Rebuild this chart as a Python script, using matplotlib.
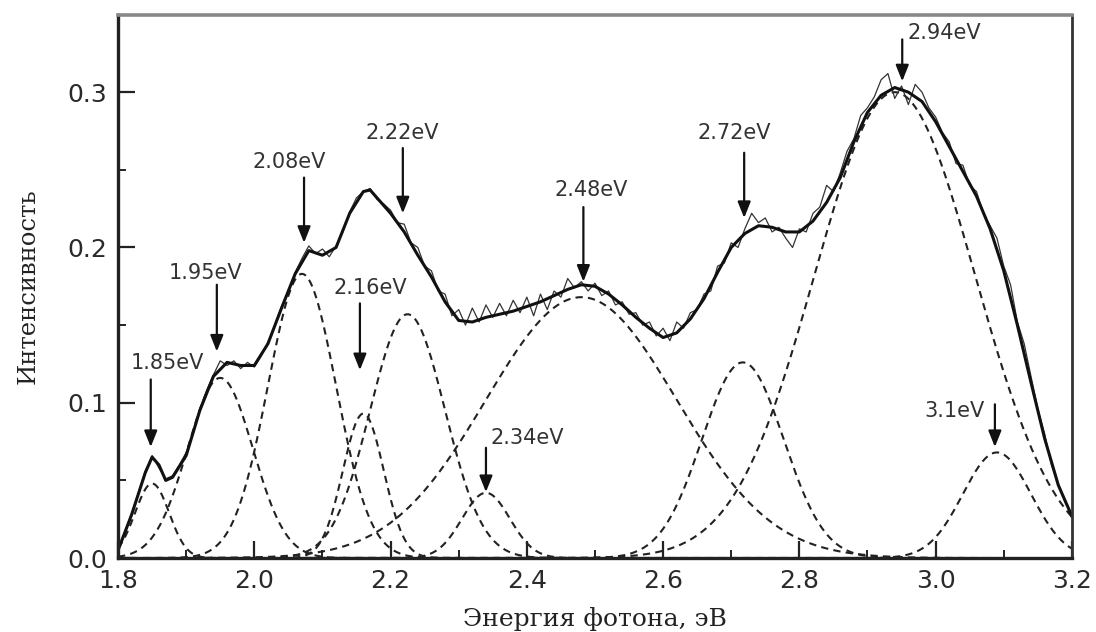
import numpy as np
import matplotlib
matplotlib.use("Agg")
import matplotlib.pyplot as plt
from matplotlib.ticker import MultipleLocator, FormatStrFormatter

# ---------------- data ----------------
# smooth fitted envelope (solid thick line)
fit_energy = [1.80, 1.82, 1.84, 1.85, 1.86, 1.87, 1.88, 1.90, 1.92, 1.94, 1.96, 1.98,
              2.00, 2.02, 2.04, 2.06, 2.08, 2.10, 2.12, 2.14, 2.16, 2.17, 2.18, 2.20,
              2.22, 2.24, 2.26, 2.28, 2.30, 2.32, 2.34, 2.36, 2.38, 2.40, 2.42, 2.44,
              2.46, 2.48, 2.50, 2.52, 2.54, 2.56, 2.58, 2.60, 2.62, 2.64, 2.66, 2.68,
              2.70, 2.72, 2.74, 2.76, 2.78, 2.80, 2.82, 2.84, 2.86, 2.88, 2.90, 2.92,
              2.94, 2.96, 2.98, 3.00, 3.02, 3.04, 3.06, 3.08, 3.10, 3.12, 3.14, 3.16,
              3.18, 3.20]
fit_intensity = [0.005, 0.028, 0.055, 0.065, 0.060, 0.050, 0.052, 0.066, 0.095, 0.117, 0.126, 0.124,
                 0.124, 0.138, 0.161, 0.183, 0.198, 0.195, 0.200, 0.222, 0.236, 0.237, 0.232, 0.222,
                 0.210, 0.195, 0.181, 0.165, 0.153, 0.152, 0.155, 0.157, 0.159, 0.162, 0.165, 0.169,
                 0.173, 0.176, 0.175, 0.170, 0.163, 0.155, 0.148, 0.142, 0.145, 0.154, 0.167, 0.184,
                 0.200, 0.209, 0.214, 0.213, 0.210, 0.210, 0.217, 0.229, 0.245, 0.268, 0.287, 0.298,
                 0.303, 0.300, 0.294, 0.281, 0.265, 0.249, 0.233, 0.212, 0.185, 0.150, 0.113, 0.077,
                 0.047, 0.027]

# measured spectrum (thin noisy line), 1.80 ... 3.20 eV in 0.01 eV steps
exp_intensity = [
    0.006, 0.016, 0.029, 0.042, 0.056, 0.066, 0.058, 0.051, 0.053, 0.060,
    0.068, 0.080, 0.096, 0.108, 0.118, 0.127, 0.124, 0.127, 0.122, 0.126,
    0.123, 0.130, 0.139, 0.150, 0.162, 0.172, 0.184, 0.193, 0.201, 0.196,
    0.199, 0.194, 0.201, 0.210, 0.223, 0.232, 0.236, 0.238, 0.231, 0.228,
    0.224, 0.216, 0.215, 0.203, 0.200, 0.188, 0.185, 0.172, 0.170, 0.156,
    0.160, 0.150, 0.161, 0.152, 0.163, 0.155, 0.164, 0.156, 0.166, 0.158,
    0.168, 0.156, 0.170, 0.160, 0.172, 0.168, 0.180, 0.174, 0.178, 0.172,
    0.177, 0.169, 0.172, 0.163, 0.165, 0.157, 0.158, 0.150, 0.152, 0.143,
    0.148, 0.140, 0.152, 0.148, 0.158, 0.160, 0.170, 0.172, 0.188, 0.190,
    0.203, 0.200, 0.212, 0.222, 0.216, 0.219, 0.210, 0.213, 0.206, 0.200,
    0.212, 0.210, 0.222, 0.226, 0.240, 0.236, 0.248, 0.262, 0.270, 0.285,
    0.290, 0.297, 0.308, 0.312, 0.296, 0.304, 0.292, 0.305, 0.300, 0.290,
    0.284, 0.274, 0.268, 0.254, 0.253, 0.240, 0.236, 0.222, 0.214, 0.206,
    0.188, 0.176, 0.152, 0.138, 0.117, 0.096, 0.080, 0.060, 0.048, 0.036,
    0.028]
exp_start, exp_stop = 1.80, 3.20

# Gaussian components of the decomposition (dashed lines)
peak_centers = [1.85, 1.95, 2.07, 2.16, 2.225, 2.34, 2.48, 2.717, 2.94, 3.09]
peak_heights = [0.048, 0.116, 0.183, 0.093, 0.157, 0.042, 0.168, 0.126, 0.300, 0.068]
peak_sigmas  = [0.025, 0.048, 0.050, 0.030, 0.055, 0.035, 0.140, 0.060, 0.118, 0.050]

# peak labels
peak_labels = ["1.85eV", "1.95eV", "2.08eV", "2.16eV", "2.22eV",
               "2.34eV", "2.48eV", "2.72eV", "2.94eV", "3.1eV"]

x_ticks = [1.8, 2.0, 2.2, 2.4, 2.6, 2.8, 3.0, 3.2]
y_ticks = [0.0, 0.1, 0.2, 0.3]
x_label = "Энергия фотона, эВ"
y_label = "Интенсивность"

# ---------------- figure ----------------
fig = plt.figure(figsize=(10.96, 6.32), dpi=100)
ax = fig.add_axes([0.1077, 0.117, 0.978 - 0.1077, 0.977 - 0.117])

grid = np.linspace(1.8, 3.2, 1401)
for c, h, s in zip(peak_centers, peak_heights, peak_sigmas):
    ax.plot(grid, h * np.exp(-(grid - c) ** 2 / (2 * s ** 2)),
            color="#222222", lw=1.5, ls=(0, (3.5, 2.5)))

exp_energy = np.linspace(exp_start, exp_stop, len(exp_intensity))
ax.plot(exp_energy, exp_intensity, color="#333333", lw=0.9)
ax.plot(fit_energy, fit_intensity, color="#111111", lw=2.2)

# annotations: (text x, text y, ha, arrow x, arrow top, arrow tip)
layout = [
    (1.873, 0.1255, "center", 1.848, 0.115, 0.0715),
    (1.929, 0.1835, "center", 1.945, 0.176, 0.133),
    (2.051, 0.255, "center", 2.073, 0.245, 0.203),
    (2.170, 0.174, "center", 2.155, 0.164, 0.121),
    (2.217, 0.274, "center", 2.218, 0.264, 0.222),
    (2.346, 0.077, "left", 2.340, 0.071, 0.0425),
    (2.494, 0.237, "center", 2.483, 0.226, 0.178),
    (2.705, 0.274, "center", 2.719, 0.261, 0.219),
    (2.958, 0.338, "left", 2.951, 0.334, 0.307),
    (3.072, 0.095, "right", 3.087, 0.099, 0.0715),
]
for lab, (tx, ty, ha, axx, atop, atip) in zip(peak_labels, layout):
    ax.text(tx, ty, lab, ha=ha, va="center", fontsize=15,
            family="DejaVu Sans", color="#333333")
    ax.annotate("", xy=(axx, atip), xytext=(axx, atop),
                arrowprops=dict(arrowstyle="-|>,head_length=0.75,head_width=0.3",
                                mutation_scale=13, color="#111111", lw=1.6,
                                shrinkA=0, shrinkB=0))

ax.set_xlim(1.8, 3.2)
ax.set_ylim(0.0, 0.35)
ax.set_xticks(x_ticks)
ax.set_yticks(y_ticks)
ax.xaxis.set_minor_locator(MultipleLocator(0.1))
ax.yaxis.set_minor_locator(MultipleLocator(0.05))
ax.xaxis.set_major_formatter(FormatStrFormatter("%.1f"))
ax.yaxis.set_major_formatter(FormatStrFormatter("%.1f"))
ax.tick_params(which="major", direction="in", length=12, width=1.6,
               labelsize=18, labelcolor="#2a2a2a", color="#222222", pad=8)
ax.tick_params(which="minor", direction="in", length=6, width=1.4, color="#222222")
ax.tick_params(axis="y", which="both", right=False)
ax.tick_params(axis="x", which="both", top=False)
for lab in ax.get_xticklabels() + ax.get_yticklabels():
    lab.set_family("DejaVu Sans")

for side in ["left", "bottom"]:
    ax.spines[side].set_linewidth(2.4)
    ax.spines[side].set_color("#222222")
ax.spines["right"].set_linewidth(2.0)
ax.spines["right"].set_color("#333333")
ax.spines["top"].set_linewidth(2.6)
ax.spines["top"].set_color("#888888")

ax.set_xlabel(x_label, fontsize=18, family="DejaVu Serif", color="#222222", labelpad=10)
ax.set_ylabel(y_label, fontsize=17.5, family="DejaVu Serif", color="#222222", labelpad=20)

fig.savefig("out.png", dpi=100)
